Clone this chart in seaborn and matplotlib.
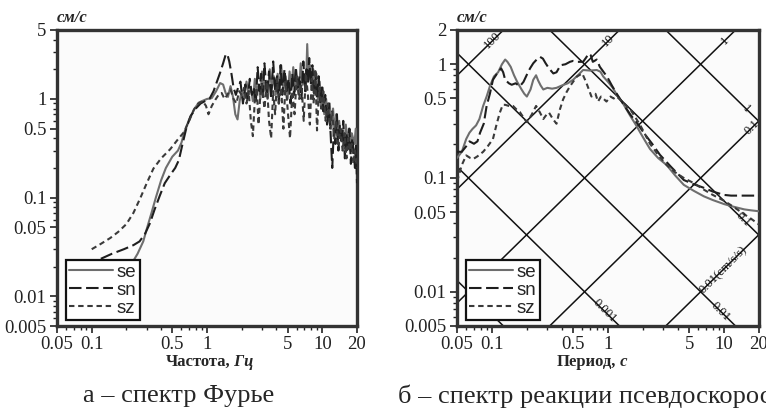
import numpy as np
import pandas as pd
import seaborn as sns
import matplotlib
matplotlib.use('Agg')
import matplotlib.pyplot as plt
from matplotlib.ticker import LogLocator, NullFormatter

sns.set_theme(style='ticks')
plt.rcParams['font.family'] = ['Liberation Serif', 'DejaVu Serif']

# --- а: спектр Фурье ---
se_f = [0.2, 0.22, 0.25, 0.28, 0.3, 0.33, 0.36, 0.4, 0.44, 0.5, 0.56, 0.6, 0.64, 0.7, 0.78, 0.85, 0.92, 1.0, 1.1, 1.2,
        1.3, 1.38, 1.45, 1.52, 1.6, 1.68, 1.76, 1.84, 1.92, 2.0,
        2.1, 2.2, 2.3, 2.4, 2.5, 2.6, 2.7, 2.8, 2.9, 3.0, 3.1, 3.2, 3.35, 3.5, 3.65, 3.8, 3.95, 4.1, 4.25, 4.4,
        4.6, 4.8, 5.0, 5.2, 5.4, 5.6, 5.8, 6.0, 6.25, 6.5, 6.75, 7.0, 7.2, 7.4, 7.6, 7.85, 8.1, 8.35, 8.6, 8.9,
        9.2, 9.5, 9.8, 10.1, 10.4, 10.8, 11.2, 11.6, 12.0, 12.4, 12.8, 13.2, 13.6, 14.0,
        14.5, 15.0, 15.5, 16.0, 16.5, 17.0, 17.5, 18.0, 18.5, 19.0, 19.5, 20.0]
se_a = [0.016, 0.021, 0.027, 0.036, 0.048, 0.07, 0.1, 0.15, 0.2, 0.26, 0.3, 0.36, 0.47, 0.62, 0.8, 0.92, 0.96, 1.0, 1.02, 1.2,
        1.45, 1.4, 1.15, 1.05, 1.35, 1.05, 0.7, 0.62, 0.95, 1.2,
        1.0, 1.5, 1.1, 1.3, 0.95, 1.6, 1.2, 1.4, 1.0, 1.9, 1.2, 1.5, 1.0, 2.0, 1.3, 1.7, 1.1, 1.8, 1.3, 2.2,
        1.2, 1.7, 1.0, 1.9, 1.3, 2.1, 1.2, 1.6, 1.1, 2.3, 1.4, 1.8, 1.2, 3.6, 1.5, 2.2, 1.3, 2.0, 1.1, 1.8,
        0.9, 1.5, 0.8, 1.3, 0.7, 1.0, 0.6, 0.9, 0.5, 0.8, 0.45, 0.7, 0.35, 0.6,
        0.4, 0.5, 0.3, 0.55, 0.35, 0.5, 0.3, 0.45, 0.4, 0.35, 0.5, 0.3]

sn_f = [0.12, 0.15, 0.19, 0.23, 0.26, 0.29, 0.32, 0.35, 0.39, 0.43, 0.48, 0.53, 0.57, 0.61, 0.66, 0.72, 0.8, 0.88, 0.96, 1.05,
        1.14, 1.22, 1.3, 1.38, 1.45, 1.5, 1.56, 1.63, 1.7, 1.78, 1.86, 1.95,
        2.05, 2.15, 2.25, 2.35, 2.45, 2.55, 2.65, 2.75, 2.85, 2.95, 3.05, 3.15, 3.3, 3.45, 3.6, 3.75, 3.9, 4.05, 4.2, 4.35,
        4.5, 4.7, 4.9, 5.1, 5.3, 5.5, 5.7, 5.9, 6.1, 6.35, 6.6, 6.85, 7.1, 7.3, 7.5, 7.7, 7.95, 8.2, 8.45, 8.7,
        9.0, 9.3, 9.6, 9.9, 10.2, 10.6, 11.0, 11.4, 11.8, 12.2, 12.6, 13.0, 13.4, 13.8, 14.2, 14.7, 15.2, 15.7, 16.2, 16.7,
        17.2, 17.7, 18.2, 18.7, 19.2, 19.6, 20.0]
sn_a = [0.024, 0.027, 0.03, 0.033, 0.036, 0.043, 0.055, 0.075, 0.105, 0.14, 0.17, 0.2, 0.24, 0.34, 0.5, 0.67, 0.8, 0.9, 0.95, 1.0,
        1.2, 1.5, 1.85, 2.3, 2.8, 2.85, 2.4, 1.8, 1.3, 1.1, 1.3, 1.5,
        0.9, 1.4, 1.0, 1.6, 1.1, 1.3, 0.9, 2.1, 1.2, 1.8, 1.0, 2.3, 1.1, 1.9, 1.0, 2.4, 1.2, 1.7, 0.9, 2.2,
        1.1, 2.0, 1.2, 1.6, 0.9, 1.8, 1.1, 2.1, 1.3, 1.7, 1.0, 2.4, 1.2, 2.0, 1.5, 2.6, 1.4, 2.2, 1.1, 1.9,
        1.0, 1.7, 0.9, 1.4, 0.75, 1.1, 0.55, 0.9, 0.45, 0.2, 0.5, 0.35, 0.7, 0.3, 0.55, 0.35, 0.6, 0.25, 0.45, 0.3,
        0.5, 0.22, 0.4, 0.3, 0.2, 0.35, 0.14]

sz_f = [0.1, 0.12, 0.145, 0.17, 0.2, 0.23, 0.264, 0.3, 0.343, 0.4, 0.48, 0.55, 0.63, 0.7, 0.77, 0.84, 0.92, 0.98, 1.03, 1.1,
        1.18, 1.26, 1.34, 1.42, 1.5, 1.6, 1.7, 1.8, 1.9, 2.0,
        2.1, 2.2, 2.3, 2.4, 2.5, 2.6, 2.7, 2.8, 2.9, 3.0, 3.15, 3.3, 3.45, 3.6, 3.75, 3.9, 4.05, 4.2,
        4.4, 4.6, 4.8, 5.0, 5.25, 5.5, 5.75, 6.0, 6.3, 6.6, 6.9, 7.2, 7.5, 7.8, 8.1, 8.4, 8.7, 9.0,
        9.4, 9.8, 10.2, 10.7, 11.2, 11.7, 12.2, 12.7, 13.2, 13.8, 14.4, 15.0, 15.6, 16.2, 16.8, 17.4, 18.0, 18.6, 19.2, 20.0]
sz_a = [0.030, 0.034, 0.039, 0.045, 0.054, 0.07, 0.099, 0.14, 0.197, 0.25, 0.31, 0.38, 0.46, 0.6, 0.78, 0.9, 0.95, 0.85, 0.70, 0.85,
        0.98, 1.1, 1.15, 1.0, 1.1, 1.25, 1.0, 0.9, 1.2, 1.1,
        1.3, 0.9, 1.2, 0.6, 0.42, 1.0, 1.3, 0.55, 1.1, 1.4, 0.8, 1.5, 0.6, 0.4, 1.2, 0.7, 1.6, 0.9,
        1.3, 0.5, 1.5, 0.8, 0.4, 1.2, 0.7, 1.7, 1.0, 1.4, 0.6, 1.8, 1.1, 0.55, 1.6, 0.9, 2.0, 0.48,
        1.3, 0.8, 1.2, 0.6, 0.9, 0.5, 0.75, 0.4, 0.6, 0.35, 0.5, 0.3, 0.45, 0.25, 0.4, 0.3, 0.35, 0.22, 0.3, 0.2]

# --- б: спектр реакции псевдоскорости ---
se_T = [0.05, 0.055, 0.06, 0.064, 0.068, 0.073, 0.078, 0.084, 0.09, 0.096, 0.104, 0.113, 0.122, 0.13, 0.136,
        0.145, 0.155, 0.165, 0.18, 0.19, 0.2, 0.215, 0.227, 0.24, 0.25, 0.263, 0.277, 0.3, 0.33, 0.36,
        0.4, 0.45, 0.5, 0.55, 0.61, 0.7, 0.8, 0.86, 0.91, 1.0, 1.1, 1.19, 1.35, 1.56, 1.75,
        1.9, 2.1, 2.3, 2.7, 3.2, 3.8, 4.5, 5.5, 6.7, 8.0, 10.0, 12.0, 14.9, 17.0, 20.0]
se_v = [0.15, 0.17, 0.22, 0.25, 0.27, 0.29, 0.33, 0.43, 0.52, 0.64, 0.78, 0.85, 1.0, 1.1, 1.05,
        0.95, 0.8, 0.7, 0.6, 0.55, 0.52, 0.6, 0.73, 0.8, 0.72, 0.65, 0.6, 0.62, 0.61, 0.62,
        0.65, 0.68, 0.73, 0.8, 0.89, 0.88, 0.89, 0.86, 0.78, 0.7, 0.62, 0.54, 0.45, 0.35, 0.29,
        0.25, 0.21, 0.18, 0.15, 0.13, 0.105, 0.087, 0.077, 0.069, 0.064, 0.059, 0.056, 0.053, 0.052, 0.051]

sn_T = [0.05, 0.055, 0.06, 0.064, 0.07, 0.075, 0.079, 0.085, 0.09, 0.096, 0.102, 0.11, 0.12, 0.125, 0.13,
        0.14, 0.148, 0.16, 0.174, 0.187, 0.2, 0.213, 0.227, 0.243, 0.26, 0.275, 0.29, 0.31, 0.338, 0.36,
        0.39, 0.43, 0.47, 0.5, 0.55, 0.61, 0.65, 0.68, 0.71, 0.74, 0.8, 0.85, 0.92, 0.98, 1.08,
        1.19, 1.35, 1.56, 1.8, 2.03, 2.4, 2.8, 3.5, 4.5, 5.5, 6.7, 8.0, 10.0, 11.5, 14.0, 17.0, 20.0]
sn_v = [0.17, 0.17, 0.19, 0.21, 0.2, 0.21, 0.25, 0.3, 0.43, 0.55, 0.73, 0.82, 0.92, 0.85, 0.73,
        0.68, 0.66, 0.68, 0.64, 0.7, 0.81, 0.92, 1.02, 1.1, 1.16, 1.12, 1.02, 0.92, 0.83, 0.85,
        0.98, 1.0, 1.05, 1.07, 1.05, 1.05, 1.15, 1.24, 1.2, 1.05, 1.1, 0.95, 0.85, 0.78, 0.65,
        0.55, 0.45, 0.36, 0.3, 0.25, 0.2, 0.16, 0.125, 0.096, 0.088, 0.082, 0.076, 0.071, 0.07, 0.07, 0.07, 0.07]

sz_T = [0.05, 0.055, 0.06, 0.065, 0.069, 0.075, 0.084, 0.092, 0.102, 0.11, 0.117, 0.124, 0.13, 0.14, 0.152,
        0.163, 0.174, 0.187, 0.2, 0.22, 0.24, 0.258, 0.277, 0.295, 0.31, 0.335, 0.36, 0.385, 0.41, 0.44,
        0.47, 0.5, 0.54, 0.6, 0.65, 0.72, 0.78, 0.82, 0.87, 0.91, 0.97, 1.05, 1.12, 1.19, 1.35,
        1.56, 1.9, 2.3, 2.7, 3.2, 3.8, 4.5, 5.5, 6.7, 8.0, 10.0, 12.0, 14.9, 17.0, 20.0]
sz_v = [0.093, 0.13, 0.158, 0.15, 0.147, 0.155, 0.17, 0.19, 0.22, 0.3, 0.376, 0.44, 0.44, 0.43, 0.43,
        0.4, 0.38, 0.34, 0.31, 0.36, 0.43, 0.38, 0.33, 0.36, 0.376, 0.33, 0.3, 0.4, 0.49, 0.57,
        0.64, 0.7, 0.78, 0.83, 0.69, 0.52, 0.55, 0.47, 0.52, 0.5, 0.47, 0.52, 0.5, 0.52, 0.46,
        0.4, 0.29, 0.2, 0.16, 0.13, 0.112, 0.1, 0.09, 0.079, 0.071, 0.063, 0.056, 0.048, 0.044, 0.039]

# tripartite grid: acceleration (cm/s/s) and displacement (cm) levels
acc_levels = [0.01, 0.1, 1, 10, 100]
disp_levels = [0.0001, 0.001, 0.01, 0.1, 1]

x_ticks = [0.05, 0.1, 0.5, 1, 5, 10, 20]
x_labels = ['0.05', '0.1', '0.5', '1', '5', '10', '20']
yl_ticks = [0.005, 0.01, 0.05, 0.1, 0.5, 1, 5]
yl_labels = ['0.005', '0.01', '0.05', '0.1', '0.5', '1', '5']
yr_ticks = [0.005, 0.01, 0.05, 0.1, 0.5, 1, 2]
yr_labels = ['0.005', '0.01', '0.05', '0.1', '0.5', '1', '2']

palette = {'se': '#6e6e6e', 'sn': '#1e1e1e', 'sz': '#3a3a3a'}
dashes = {'se': '', 'sn': (6, 2.2), 'sz': (2.6, 1.8)}


def long_df(xs, ys, xname, yname):
    parts = []
    for name, x, y in zip(['se', 'sn', 'sz'], xs, ys):
        parts.append(pd.DataFrame({xname: x, yname: y, 'comp': name}))
    return pd.concat(parts, ignore_index=True)


df_f = long_df([se_f, sn_f, sz_f], [se_a, sn_a, sz_a], 'f', 'amp')
df_r = long_df([se_T, sn_T, sz_T], [se_v, sn_v, sz_v], 'T', 'psv')

fig = plt.figure(figsize=(7.66, 4.15), dpi=100)
ax1 = fig.add_axes([57 / 766, 1 - 326 / 415, 300 / 766, 296 / 415])
ax2 = fig.add_axes([457 / 766, 1 - 326 / 415, 302 / 766, 296 / 415])

# grid lines of the tripartite plot
Tg = np.array([0.01, 100.0])
for a in acc_levels:
    ax2.plot(Tg, a * Tg / (2 * np.pi), color='#111111', lw=1.1, zorder=1)
for d in disp_levels:
    ax2.plot(Tg, 2 * np.pi * d / Tg, color='#111111', lw=1.1, zorder=1)

sns.lineplot(data=df_f, x='f', y='amp', hue='comp', style='comp', palette=palette, dashes=dashes,
             estimator=None, sort=False, lw=1.5, ax=ax1, zorder=3)
sns.lineplot(data=df_r, x='T', y='psv', hue='comp', style='comp', palette=palette, dashes=dashes,
             estimator=None, sort=False, lw=1.5, ax=ax2, zorder=3)

for ax, ylim, yt, ytl in [(ax1, (0.005, 5), yl_ticks, yl_labels), (ax2, (0.005, 2), yr_ticks, yr_labels)]:
    ax.set_xscale('log')
    ax.set_yscale('log')
    ax.set_xlim(0.05, 20)
    ax.set_ylim(*ylim)
    ax.set_xticks(x_ticks, x_labels)
    ax.set_yticks(yt, ytl)
    ax.xaxis.set_minor_locator(LogLocator(base=10, subs=np.arange(2, 10)))
    ax.yaxis.set_minor_locator(LogLocator(base=10, subs=np.arange(2, 10)))
    ax.xaxis.set_minor_formatter(NullFormatter())
    ax.yaxis.set_minor_formatter(NullFormatter())
    ax.tick_params(which='major', direction='out', length=5, width=1.2, colors='#222222', labelsize=13.5, pad=2.5)
    ax.tick_params(which='minor', direction='out', length=3, width=1.0, colors='#222222')
    ax.set_facecolor('#fbfbfb')
    for sp in ax.spines.values():
        sp.set_linewidth(2.4)
        sp.set_color('#333333')
    ax.set_xlabel('')
    ax.set_ylabel('')
    ax.text(0.0, 1.015, 'см/с', transform=ax.transAxes, ha='left', va='bottom',
            fontsize=12, fontweight='bold', fontstyle='italic')
    handles, labels = ax.get_legend_handles_labels()
    leg = ax.legend(handles, labels, loc='lower left', bbox_to_anchor=(0.01, 0.0), frameon=True,
                    fancybox=False, framealpha=1, edgecolor='#111111', handlelength=2.3,
                    handletextpad=0.2, labelspacing=0.05, borderpad=0.2, borderaxespad=0.3,
                    prop={'family': 'Liberation Sans', 'size': 13.5})
    leg.get_frame().set_linewidth(1.6)
    leg.set_zorder(5)

# diagonal line labels
diag_labels = [('100', 'a', 100, 0.09, -45), ('10', 'a', 10, 0.9, -45), ('1', 'a', 1, 9.0, -45),
               ('0.1', 'a', 0.1, 15.5, -45), ('1', 'd', 1, 17.5, 45),
               ('0.01(cm/s/s)', 'a', 0.01, 11.0, 135), ('0.001', 'd', 0.001, 1.05, 45),
               ('0.01', 'd', 0.01, 10.5, 45), ('0.1', 'd', 0.1, 16.5, 45)]
for txt, kind, lev, t, ang in diag_labels:
    if kind == 'a':
        y = lev * t / (2 * np.pi)
        rot = 45
    else:
        y = 2 * np.pi * lev / t
        rot = -45
    off = (6 * np.cos(np.radians(ang + 90)), 6 * np.sin(np.radians(ang + 90)))
    tx = ax2.annotate(txt, xy=(t, y), xytext=off, textcoords='offset points', rotation=rot,
                      rotation_mode='anchor', ha='center', va='center', fontsize=9, color='#111111')
    tx.set_clip_on(True)


def two_part_label(ax, word, unit, xfrac):
    ax.text(xfrac, -0.135, word, transform=ax.transAxes, ha='right', va='baseline',
            fontsize=12, fontweight='bold')
    ax.text(xfrac, -0.135, ' ' + unit, transform=ax.transAxes, ha='left', va='baseline',
            fontsize=12, fontweight='bold', fontstyle='italic')


two_part_label(ax1, 'Частота,', 'Гц', 0.577)
two_part_label(ax2, 'Период,', 'с', 0.527)

fig.text(179 / 766, 1 - 396 / 415, 'а – спектр Фурье', ha='center', va='center', fontsize=19)
fig.text(398 / 766, 1 - 396 / 415, 'б – спектр реакции псевдоскорости', ha='left', va='center', fontsize=19)

fig.savefig('out.png', dpi=100)
